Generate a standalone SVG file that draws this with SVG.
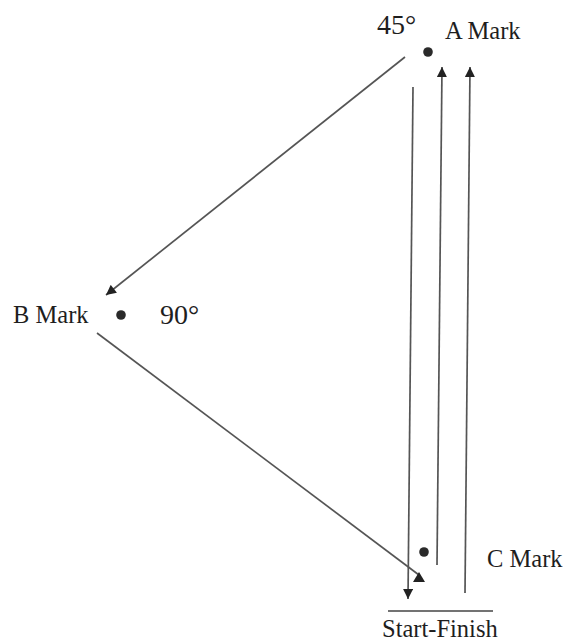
<svg xmlns="http://www.w3.org/2000/svg" width="574" height="641" viewBox="0 0 574 641">
<style>
.t{font-family:"Liberation Serif","Times New Roman",serif;fill:#1e1e1e}
.lbl{font-size:24.5px}
.ang{font-size:28px}
.ln{stroke:#555;stroke-width:1.7;fill:none}
.dot{fill:#2a2a2a}
</style>
<defs>
<marker id="ah" viewBox="0 0 10 10" refX="10" refY="5" markerWidth="11" markerHeight="10" markerUnits="userSpaceOnUse" orient="auto">
<path d="M0,0 L10,5 L0,10 z" fill="#222"/>
</marker>
</defs>
<rect width="574" height="641" fill="#fff"/>
<g id="markA">
<circle class="dot" cx="428" cy="52" r="4.8"/>
<text class="t ang" x="377" y="34">45°</text>
<text class="t lbl" x="445" y="39">A Mark</text>
</g>
<g id="markB">
<circle class="dot" cx="121" cy="315" r="4.8"/>
<text class="t lbl" x="13" y="323">B Mark</text>
<text class="t ang" x="160" y="324">90°</text>
</g>
<g id="markC">
<circle class="dot" cx="424" cy="552" r="4.8"/>
<text class="t lbl" x="487" y="567">C Mark</text>
</g>
<g id="startFinish">
<line x1="388" y1="611" x2="493" y2="611" stroke="#444" stroke-width="1.7"/>
<text class="t lbl" x="382" y="637">Start-Finish</text>
</g>
<g id="connectors">
<line class="ln" x1="405" y1="57" x2="106" y2="295" marker-end="url(#ah)"/>
<line class="ln" x1="97" y1="333" x2="419" y2="575"/>
<polygon points="419,572 413,582 425,582" fill="#222"/>
<line class="ln" x1="413" y1="87" x2="408" y2="599" marker-end="url(#ah)"/>
<line class="ln" x1="437" y1="565" x2="442" y2="67" marker-end="url(#ah)"/>
<line class="ln" x1="465" y1="593" x2="470" y2="67" marker-end="url(#ah)"/>
</g>
</svg>
